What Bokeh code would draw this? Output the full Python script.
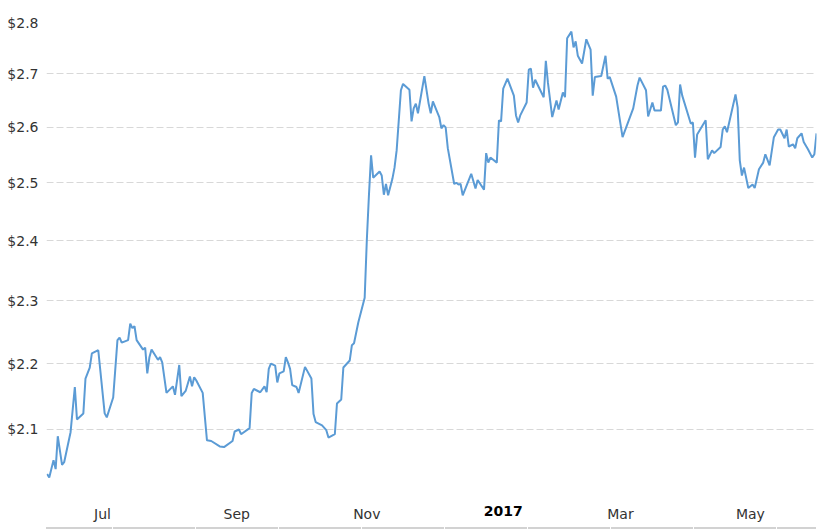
import pandas as pd
from bokeh.plotting import figure
from bokeh.models import Range1d, FixedTicker, PrintfTickFormatter, Div, ColumnDataSource
from bokeh.core.properties import value
from bokeh.layouts import column
from bokeh.embed import file_html
from bokeh.resources import INLINE

# ---- data ----
dates = [
    "2016-06-05", "2016-06-06", "2016-06-08", "2016-06-09", "2016-06-10", "2016-06-12", "2016-06-13",
    "2016-06-16", "2016-06-18", "2016-06-19", "2016-06-22", "2016-06-23", "2016-06-25", "2016-06-26",
    "2016-06-29", "2016-07-02", "2016-07-03", "2016-07-06", "2016-07-08", "2016-07-09", "2016-07-10",
    "2016-07-13", "2016-07-14", "2016-07-15", "2016-07-16", "2016-07-17", "2016-07-20", "2016-07-21",
    "2016-07-22", "2016-07-23", "2016-07-24", "2016-07-27", "2016-07-28", "2016-07-29", "2016-07-31",
    "2016-08-03", "2016-08-04", "2016-08-06", "2016-08-07", "2016-08-09", "2016-08-11", "2016-08-12",
    "2016-08-13", "2016-08-14", "2016-08-17", "2016-08-19", "2016-08-21", "2016-08-25", "2016-08-27",
    "2016-08-31", "2016-09-01", "2016-09-03", "2016-09-04", "2016-09-08", "2016-09-09", "2016-09-10",
    "2016-09-13", "2016-09-15", "2016-09-16", "2016-09-17", "2016-09-18", "2016-09-20", "2016-09-21",
    "2016-09-22", "2016-09-24", "2016-09-25", "2016-09-26", "2016-09-27", "2016-09-28", "2016-09-30",
    "2016-10-01", "2016-10-04", "2016-10-07", "2016-10-08", "2016-10-09", "2016-10-12", "2016-10-14",
    "2016-10-15", "2016-10-18", "2016-10-19", "2016-10-21", "2016-10-22", "2016-10-25", "2016-10-26",
    "2016-10-27", "2016-10-29", "2016-11-01", "2016-11-02", "2016-11-03", "2016-11-04", "2016-11-05",
    "2016-11-08", "2016-11-09", "2016-11-10", "2016-11-11", "2016-11-12", "2016-11-14", "2016-11-15",
    "2016-11-16", "2016-11-18", "2016-11-19", "2016-11-22", "2016-11-23", "2016-11-24", "2016-11-25",
    "2016-11-26", "2016-11-29", "2016-12-01", "2016-12-02", "2016-12-03", "2016-12-06", "2016-12-07",
    "2016-12-08", "2016-12-09", "2016-12-10", "2016-12-13", "2016-12-14", "2016-12-15", "2016-12-16",
    "2016-12-17", "2016-12-21", "2016-12-23", "2016-12-24", "2016-12-27", "2016-12-28", "2016-12-29",
    "2016-12-30", "2017-01-02", "2017-01-03", "2017-01-04", "2017-01-05", "2017-01-07", "2017-01-10",
    "2017-01-11", "2017-01-12", "2017-01-13", "2017-01-16", "2017-01-17", "2017-01-18", "2017-01-19",
    "2017-01-20", "2017-01-24", "2017-01-25", "2017-01-26", "2017-01-28", "2017-01-30", "2017-01-31",
    "2017-02-02", "2017-02-03", "2017-02-04", "2017-02-06", "2017-02-07", "2017-02-08", "2017-02-09",
    "2017-02-11", "2017-02-13", "2017-02-15", "2017-02-16", "2017-02-17", "2017-02-20", "2017-02-22",
    "2017-02-23", "2017-02-24", "2017-02-27", "2017-03-02", "2017-03-07", "2017-03-09", "2017-03-10",
    "2017-03-13", "2017-03-14", "2017-03-16", "2017-03-17", "2017-03-20", "2017-03-21", "2017-03-22",
    "2017-03-23", "2017-03-27", "2017-03-28", "2017-03-29", "2017-03-30", "2017-04-03", "2017-04-04",
    "2017-04-05", "2017-04-06", "2017-04-10", "2017-04-11", "2017-04-13", "2017-04-14", "2017-04-17",
    "2017-04-18", "2017-04-19", "2017-04-20", "2017-04-24", "2017-04-25", "2017-04-26", "2017-04-27",
    "2017-04-28", "2017-04-30", "2017-05-02", "2017-05-03", "2017-05-05", "2017-05-07", "2017-05-08",
    "2017-05-10", "2017-05-12", "2017-05-14", "2017-05-15", "2017-05-17", "2017-05-18", "2017-05-19",
    "2017-05-21", "2017-05-22", "2017-05-23", "2017-05-25", "2017-05-26", "2017-05-28", "2017-05-30",
    "2017-05-31", "2017-06-01",
]

prices = [
    2.035, 2.030, 2.055, 2.042, 2.090, 2.048, 2.052,
    2.096, 2.164, 2.115, 2.124, 2.177, 2.194, 2.216,
    2.221, 2.124, 2.118, 2.148, 2.237, 2.241, 2.233,
    2.237, 2.263, 2.256, 2.259, 2.237, 2.222, 2.225,
    2.185, 2.210, 2.222, 2.206, 2.210, 2.202, 2.155,
    2.165, 2.152, 2.198, 2.150, 2.158, 2.180, 2.165,
    2.179, 2.174, 2.155, 2.084, 2.083, 2.075, 2.074,
    2.083, 2.097, 2.100, 2.093, 2.102, 2.155, 2.161,
    2.156, 2.165, 2.156, 2.192, 2.200, 2.197, 2.171,
    2.185, 2.188, 2.210, 2.202, 2.192, 2.167, 2.164,
    2.155, 2.195, 2.177, 2.123, 2.111, 2.106, 2.099,
    2.088, 2.093, 2.139, 2.145, 2.194, 2.205, 2.229,
    2.232, 2.265, 2.305, 2.400, 2.478, 2.549, 2.509,
    2.520, 2.513, 2.479, 2.498, 2.478, 2.507, 2.527,
    2.558, 2.669, 2.681, 2.670, 2.611, 2.635, 2.644,
    2.626, 2.696, 2.644, 2.626, 2.648, 2.619, 2.598,
    2.604, 2.600, 2.562, 2.498, 2.500, 2.497, 2.498,
    2.478, 2.516, 2.490, 2.505, 2.488, 2.553, 2.536,
    2.545, 2.536, 2.613, 2.611, 2.672, 2.691, 2.659,
    2.622, 2.609, 2.622, 2.646, 2.708, 2.710, 2.674,
    2.689, 2.656, 2.725, 2.683, 2.619, 2.650, 2.633,
    2.665, 2.656, 2.769, 2.782, 2.751, 2.763, 2.735,
    2.720, 2.767, 2.747, 2.659, 2.694, 2.696, 2.735,
    2.691, 2.694, 2.657, 2.582, 2.635, 2.678, 2.693,
    2.669, 2.620, 2.646, 2.631, 2.631, 2.676, 2.678,
    2.670, 2.604, 2.609, 2.680, 2.659, 2.607, 2.609,
    2.545, 2.587, 2.613, 2.542, 2.558, 2.553, 2.564,
    2.596, 2.602, 2.591, 2.661, 2.637, 2.540, 2.513,
    2.527, 2.491, 2.497, 2.491, 2.524, 2.536, 2.551,
    2.531, 2.582, 2.596, 2.596, 2.580, 2.596, 2.565,
    2.569, 2.562, 2.580, 2.589, 2.573, 2.560, 2.545,
    2.551, 2.589,
]

y_ticks = [2.0, 2.1, 2.2, 2.3, 2.4, 2.5, 2.6, 2.7, 2.8]
x_tick_dates = ["2016-07-01", "2016-09-02", "2016-11-02", "2017-01-05", "2017-03-01", "2017-05-01"]
x_tick_labels = ["Jul", "Sep", "Nov", "2017", "Mar", "May"]
year_label = "2017"


def ms(d):
    return int(pd.Timestamp(d).value // 10**6)


FONT = "DejaVu Sans"
LEFT, RIGHT, TOP = 46, 13, 22
x_range = Range1d(ms("2016-06-04 17:00"), ms("2017-06-01 00:00"))

# ---- main plot ----
p = figure(
    width=829, height=500,
    x_axis_type="datetime", y_axis_type="log",
    x_range=x_range, y_range=Range1d(2.0, 2.8),
    x_axis_location=None,
    output_backend="svg", toolbar_location=None,
    min_border_left=LEFT, min_border_right=RIGHT, min_border_top=TOP, min_border_bottom=2,
)
p.outline_line_color = None
p.xgrid.grid_line_color = None

p.line(pd.to_datetime(dates), prices, line_color="#5b9bd5", line_width=2)

p.yaxis.ticker = FixedTicker(ticks=y_ticks)
p.yaxis.formatter = PrintfTickFormatter(format="$%.1f")
p.yaxis.major_label_overrides = {2.0: ""}
p.yaxis.axis_line_color = None
p.yaxis.major_tick_line_color = None
p.yaxis.minor_tick_line_color = None
p.yaxis.major_tick_out = 0
p.yaxis.major_label_standoff = 8
p.yaxis.major_label_text_font = FONT
p.yaxis.major_label_text_font_size = "14px"
p.yaxis.major_label_text_color = "#333333"
p.ygrid.grid_line_color = "#d8d8d8"
p.ygrid.grid_line_dash = "7 3"
p.ygrid.grid_line_width = 1

# ---- x-axis label strip (same x range) ----
lab_src = ColumnDataSource(dict(
    x=[ms(d) for d in x_tick_dates],
    label=x_tick_labels,
    style=["bold" if l == year_label else "normal" for l in x_tick_labels],
    color=["#000000" if l == year_label else "#333333" for l in x_tick_labels],
))
s = figure(
    width=829, height=27,
    x_range=x_range, y_range=Range1d(0, 27),
    x_axis_location=None, y_axis_location=None,
    output_backend="svg", toolbar_location=None,
    min_border_left=LEFT, min_border_right=RIGHT, min_border_top=0, min_border_bottom=0,
)
s.outline_line_color = None
s.grid.visible = False
s.text(x="x", y=22, text="label", source=lab_src,
       text_font=value(FONT), text_font_size="14px", text_font_style="style",
       text_color="color", text_align="center", text_baseline="top")

# ---- navigator band hint at the very bottom ----
nav = Div(
    text="", width=770, height=2, margin=(0, 0, 0, LEFT),
    styles={
        "background": "repeating-linear-gradient(90deg, #d2d2d2 0px, #d2d2d2 82px, #ffffff 82px, #ffffff 83px)",
        "background-position": "-16px 0",
        "overflow": "hidden",
    },
)

layout = column(p, s, nav, spacing=0)

with open("out.html", "w") as f:
    f.write(file_html(layout, INLINE))
